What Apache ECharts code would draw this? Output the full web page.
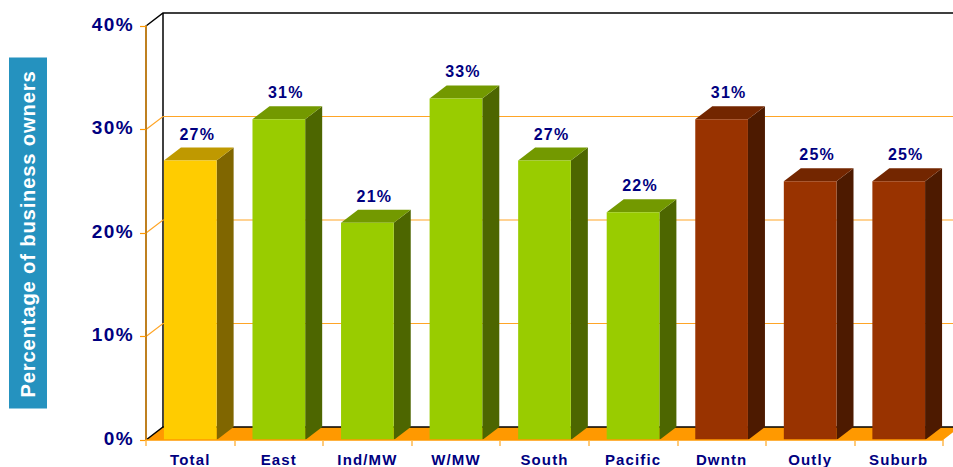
<!DOCTYPE html>
<html><head><meta charset="utf-8">
<style>html,body{margin:0;padding:0;background:#fff}#c{width:953px;height:467px}
#c text{letter-spacing:.075em}
#c text[style*="20.2px"]{letter-spacing:.83px}
</style>
<script src="https://cdn.jsdelivr.net/npm/echarts@6/dist/echarts.min.js"></script>
</head><body><div id="c"></div>
<script>
const categories = ['Total','East','Ind/MW','W/MW','South','Pacific','Dwntn','Outly','Suburb'];
const values = [27,31,21,33,27,22,31,25,25];
const groups = ['total','region','region','region','region','region','city','city','city'];
const yTicks = [0,10,20,30,40];
const palette = {
  total:{front:'#FFCC00',top:'#BF9900',side:'#806600'},
  region:{front:'#99CC00',top:'#739900',side:'#4D6600'},
  city:{front:'#993300',top:'#732600',side:'#4D1A00'}
};
const DX = 17, DY = -13;
const font = 'Liberation Sans';
const navy = '#000080';
const chart = echarts.init(document.getElementById('c'), null, {renderer:'svg'});

function wall(params, api){
  const v = api.value(1), cs = params.coordSys;
  const p = api.coord([0, v]);
  const x0 = cs.x, x1 = cs.x + cs.width, y = p[1];
  const edge = (v === 0 || v === 40);
  const children = [];
  if (v === 0) {
    children.push({type:'polygon', shape:{points:[[x0,y],[x0+DX,y+DY],[x1+DX,y+DY],[x1,y]]}, style:{fill:'#FF9900'}});
    children.push({type:'line', shape:{x1:x0+DX,y1:cs.y+DY,x2:x0+DX,y2:y+DY}, style:{stroke:'#000',lineWidth:1.5}});
  }
  children.push({type:'polyline', shape:{points:[[x0,y],[x0+DX,y+DY],[x1+DX,y+DY]]},
    style:{fill:null, stroke: edge ? '#000' : '#FFA526', lineWidth: edge ? 1.5 : 1.2}});
  return {type:'group', children};
}

function bar3d(params, api){
  const i = api.value(0), v = api.value(1);
  const c = palette[groups[i]];
  const top = api.coord([i, v]), base = api.coord([i, 0]);
  const w = api.size([1,0])[0] * 0.595;
  const l = top[0] - w/2, r = top[0] + w/2;
  return {type:'group', children:[
    {type:'polygon', shape:{points:[[r,top[1]],[r+DX,top[1]+DY],[r+DX,base[1]+DY],[r,base[1]]]}, style:{fill:c.side}},
    {type:'polygon', shape:{points:[[l,top[1]],[l+DX,top[1]+DY],[r+DX,top[1]+DY],[r,top[1]]]}, style:{fill:c.top}},
    {type:'rect', shape:{x:l,y:top[1],width:w,height:base[1]-top[1]}, style:{fill:c.front}},
    {type:'text', x:top[0]+7, y:top[1]+DY-13.5, style:{text:values[i]+'%',align:'center',verticalAlign:'middle',
      fill:navy,font:'bold 16px "'+font+'"'}}
  ]};
}

chart.setOption({
  animation:false,
  backgroundColor:'#fff',
  grid:{left:146,right:10,top:26,bottom:27,outerBoundsMode:'none'},
  xAxis:{type:'category',data:categories,z:5,
    axisLine:{lineStyle:{color:'#FF9900',width:1.5}},
    axisTick:{show:true,length:6,lineStyle:{color:'#FFB84D',width:1.5}},
    axisLabel:{color:navy,fontFamily:font,fontWeight:'bold',fontSize:15,margin:12,interval:0},
    splitLine:{show:false}},
  yAxis:{type:'value',min:0,max:40,interval:10,z:5,
    name:'Percentage of business owners',nameLocation:'middle',nameRotate:90,nameGap:99,
    nameTextStyle:{color:'#fff',backgroundColor:'#2592BF',fontFamily:font,fontWeight:'bold',fontSize:20.2,
      padding:[8,25,8,23],lineHeight:22},
    axisLine:{show:true,lineStyle:{color:'#BF8020',width:2}},
    axisTick:{show:true,length:6,lineStyle:{color:'#FF9900',width:1.2}},
    axisLabel:{color:navy,fontFamily:font,fontWeight:'bold',fontSize:19,margin:12,verticalAlign:'bottom',lineHeight:4,formatter:'{value}%'},
    splitLine:{show:false}},
  series:[
    {type:'custom',name:'wall',renderItem:wall,data:yTicks.map(t=>[0,t]),encode:{x:0,y:1},z:1,silent:true,clip:false},
    {type:'custom',name:'bars',renderItem:bar3d,data:values.map((v,i)=>[i,v]),encode:{x:0,y:1},z:2,clip:false}
  ]
});
</script></body></html>
